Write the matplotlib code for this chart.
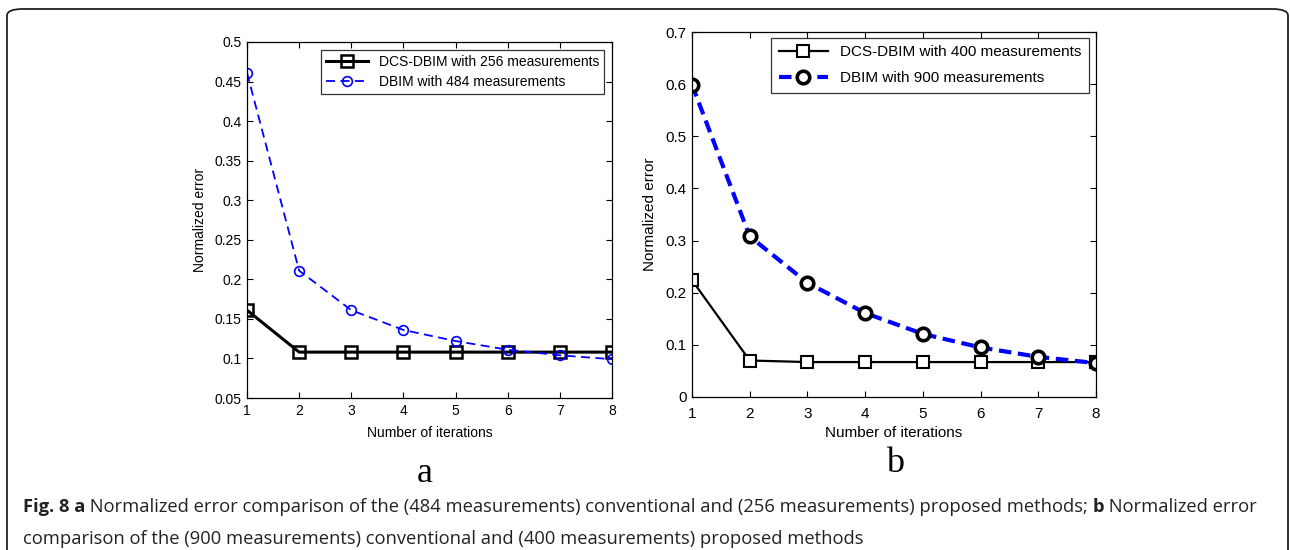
import matplotlib.pyplot as plt
import matplotlib.patches as patches

plt.rcParams['font.family'] = ['Liberation Sans', 'DejaVu Sans']

iterations = [1, 2, 3, 4, 5, 6, 7, 8]

# panel a
dcs_256 = [0.161, 0.108, 0.108, 0.108, 0.108, 0.108, 0.108, 0.108]
dbim_484 = [0.461, 0.211, 0.161, 0.136, 0.122, 0.111, 0.104, 0.099]

# panel b
dcs_400 = [0.224, 0.070, 0.067, 0.067, 0.067, 0.067, 0.067, 0.067]
dbim_900 = [0.599, 0.308, 0.219, 0.161, 0.121, 0.095, 0.077, 0.065]

W, H = 1290, 550
fig = plt.figure(figsize=(W / 100, H / 100), dpi=100)


def ax_at(x0, y0, x1, y1):
    # pixel box -> figure fraction
    return fig.add_axes([x0 / W, 1 - y1 / H, (x1 - x0) / W, (y1 - y0) / H])


def matlab_style(ax, size, pad=4):
    ax.tick_params(direction='in', top=True, right=True, labelsize=size,
                   length=4, width=0.8, pad=pad)
    for s in ax.spines.values():
        s.set_linewidth(0.9)


# ---- panel a ----
ax1 = ax_at(247, 42, 612, 398)
ax1.plot(iterations, dcs_256, color='black', lw=2.2, marker='s', ms=8,
         mfc='none', mec='black', mew=1.8, label='DCS-DBIM with 256 measurements')
ax1.plot(iterations, dbim_484, color='blue', lw=1.3, ls=(0, (5, 3)), marker='o',
         ms=7, mfc='none', mec='blue', mew=1.2, label='DBIM with 484 measurements')
ax1.set_xlim(1, 8)
ax1.set_ylim(0.05, 0.5)
ax1.set_yticks([0.05, 0.1, 0.15, 0.2, 0.25, 0.3, 0.35, 0.4, 0.45, 0.5])
ax1.set_yticklabels(['0.05', '0.1', '0.15', '0.2', '0.25', '0.3', '0.35', '0.4', '0.45', '0.5'])
ax1.set_xticks(iterations)
matlab_style(ax1, 10)
ax1.set_xlabel('Number of iterations', fontsize=10, labelpad=6)
ax1.set_ylabel('Normalized error', fontsize=10, labelpad=5)
leg1 = ax1.legend(loc='upper right', fontsize=10, frameon=True, fancybox=False,
                  edgecolor='black', borderpad=0.35, handlelength=3.0,
                  labelspacing=0.45, borderaxespad=0,
                  bbox_to_anchor=(0.978, 0.978))
leg1.get_frame().set_linewidth(0.9)

# ---- panel b ----
ax2 = ax_at(692, 32, 1096, 397)
ax2.plot(iterations, dcs_400, color='black', lw=1.6, marker='s', ms=9,
         mfc='white', mec='black', mew=1.5, label='DCS-DBIM with 400 measurements')
ax2.plot(iterations, dbim_900, color='blue', lw=3, ls=(0, (3, 1.6)), marker='o',
         ms=9, mfc='white', mec='black', mew=2.6, label='DBIM with 900 measurements')
ax2.set_xlim(1, 8)
ax2.set_ylim(0, 0.7)
ax2.set_yticks([0, 0.1, 0.2, 0.3, 0.4, 0.5, 0.6, 0.7])
ax2.set_yticklabels(['0', '0.1', '0.2', '0.3', '0.4', '0.5', '0.6', '0.7'])
ax2.set_xticks(iterations)
matlab_style(ax2, 11)
ax2.tick_params(axis='x', pad=7)
ax2.set_xlabel('Number of iterations', fontsize=11, labelpad=4)
ax2.set_ylabel('Normalized error', fontsize=11, labelpad=6)
leg2 = ax2.legend(loc='upper right', fontsize=11, frameon=True, fancybox=False,
                  edgecolor='black', borderpad=0.5, handlelength=3.2,
                  labelspacing=0.75, borderaxespad=0,
                  bbox_to_anchor=(0.983, 0.984))
leg2.get_frame().set_linewidth(0.9)

# panel letters
fig.text(425 / W, 1 - 482 / H, 'a', fontsize=26, family='Liberation Serif',
         ha='center', va='baseline')
fig.text(895 / W, 1 - 472 / H, 'b', fontsize=26, family='Liberation Serif',
         ha='center', va='baseline')

# caption, built from bold / regular pieces
cap_font = ['Open Sans', 'DejaVu Sans']
cap_size = 13.2
line1 = [('Fig. 8 a', 'bold'),
         (' Normalized error comparison of the (484 measurements) conventional and '
          '(256 measurements) proposed methods; ', 'normal'),
         ('b', 'bold'),
         (' Normalized error', 'normal')]
line2 = [('comparison of the (900 measurements) conventional and (400 measurements) '
          'proposed methods', 'normal')]

renderer = fig.canvas.get_renderer()
for line, ybase in [(line1, 512), (line2, 544)]:
    x = 23
    for txt, weight in line:
        t = fig.text(x / W, 1 - ybase / H, txt, fontsize=cap_size, family=cap_font,
                     fontweight=weight, va='baseline', ha='left', color='#222222')
        x += t.get_window_extent(renderer).width

# outer frame (bottom edge runs off the picture)
frame = patches.FancyBboxPatch((7 / W, -20 / H), (W - 9) / W, (H + 11) / H,
                               boxstyle='round,pad=0,rounding_size=0.012',
                               transform=fig.transFigure, fill=False,
                               edgecolor='#222222', lw=1.3)
fig.patches.append(frame)

fig.savefig('out.png', dpi=100)
